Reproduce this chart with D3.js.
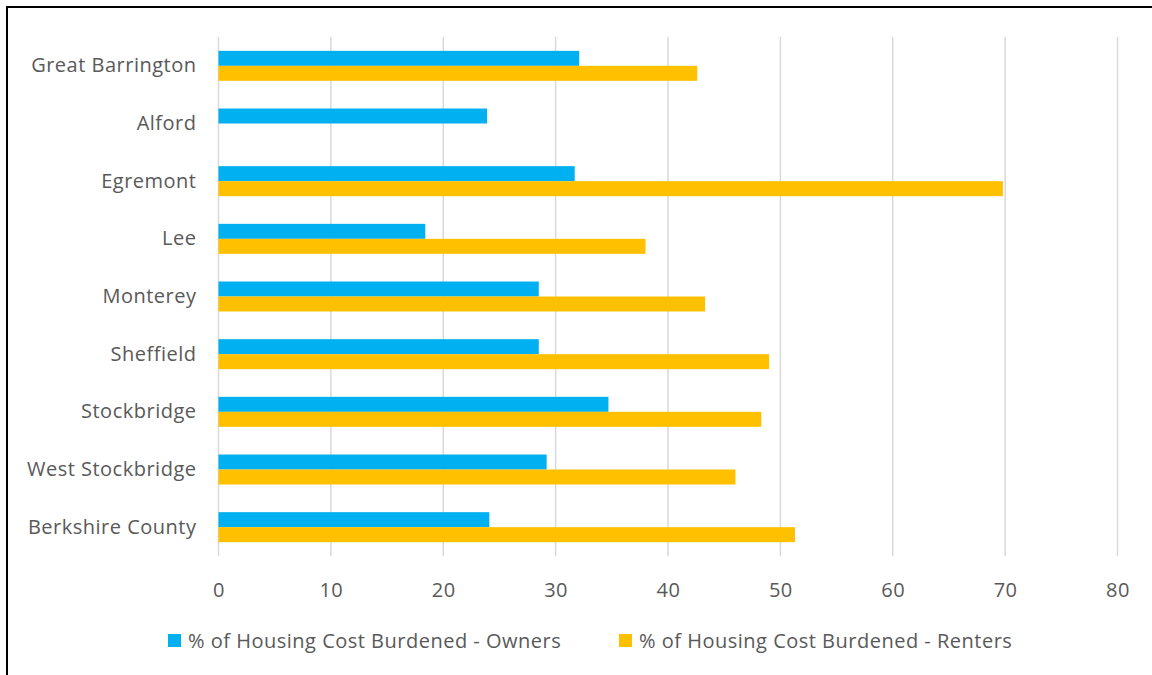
<!DOCTYPE html>
<html>
<head>
<meta charset="utf-8">
<script src="https://cdn.jsdelivr.net/npm/d3@7"></script>
<style>
  html, body { margin: 0; padding: 0; background: #fff; }
  svg { display: block; }
  text { font-family: "Open Sans", "Noto Sans", sans-serif; fill: #595959; letter-spacing: 0.5px; }
</style>
</head>
<body>
<svg id="chart" width="1152" height="675"></svg>
<script>
// Housing cost burden by town, owners vs renters (percent)
const towns = ["Great Barrington", "Alford", "Egremont", "Lee", "Monterey",
               "Sheffield", "Stockbridge", "West Stockbridge", "Berkshire County"];
const owners  = [32.1, 23.9, 31.7, 18.4, 28.5, 28.5, 34.7, 29.2, 24.1];
const renters = [42.6, null, 69.8, 38.0, 43.3, 49.0, 48.3, 46.0, 51.3];
const seriesNames = ["% of Housing Cost Burdened - Owners", "% of Housing Cost Burdened - Renters"];
const seriesColors = ["#00B0F0", "#FFC000"];
const xTicks = [0, 10, 20, 30, 40, 50, 60, 70, 80];

const svg = d3.select("#chart");

// outer frame
svg.append("rect")
  .attr("x", 7).attr("y", 7)
  .attr("width", 1160).attr("height", 680)
  .attr("fill", "none").attr("stroke", "#000").attr("stroke-width", 2);

const plot = { left: 218.5, right: 1117.5, top: 37, bottom: 556 };

const x = d3.scaleLinear().domain([0, 80]).range([plot.left, plot.right]);
const y = d3.scaleBand().domain(towns).range([plot.top, plot.bottom]).paddingInner(0.48).paddingOuter(0.24);
const sub = d3.scaleBand().domain([0, 1]).range([0, y.bandwidth()]);

// vertical gridlines
svg.append("g").selectAll("line").data(xTicks).join("line")
  .attr("x1", d => x(d)).attr("x2", d => x(d))
  .attr("y1", plot.top).attr("y2", plot.bottom)
  .attr("stroke", "#d9d9d9").attr("stroke-width", 1.5);

// bars
const series = [owners, renters];
series.forEach((vals, si) => {
  svg.append("g").selectAll("rect")
    .data(towns.map((t, i) => ({ town: t, v: vals[i] })).filter(d => d.v != null))
    .join("rect")
    .attr("x", x(0))
    .attr("y", d => y(d.town) + sub(si))
    .attr("width", d => x(d.v) - x(0))
    .attr("height", sub.bandwidth())
    .attr("fill", seriesColors[si]);
});

// category axis labels
const yAxis = d3.axisLeft(y).tickSize(0).tickPadding(22);
const gy = svg.append("g").attr("transform", `translate(${plot.left},0)`).call(yAxis);
gy.select(".domain").remove();
gy.selectAll("text").style("font-size", "20px").attr("fill", "#595959");

// value axis labels
const xAxis = d3.axisBottom(x).tickValues(xTicks).tickSize(0).tickPadding(27);
const gx = svg.append("g").attr("transform", `translate(0,${plot.bottom})`).call(xAxis);
gx.select(".domain").remove();
gx.selectAll("text").style("font-size", "20px").attr("fill", "#595959");

// legend
const legendX = [168, 619];
const lg = svg.append("g").selectAll("g").data(seriesNames).join("g")
  .attr("transform", (d, i) => `translate(${legendX[i]},641)`);
lg.append("rect").attr("x", 0).attr("y", -7).attr("width", 13).attr("height", 13)
  .attr("fill", (d, i) => seriesColors[i]);
lg.append("text").attr("x", 20).attr("y", 0).attr("dy", "0.35em")
  .style("font-size", "20px").text(d => d);
</script>
</body>
</html>
